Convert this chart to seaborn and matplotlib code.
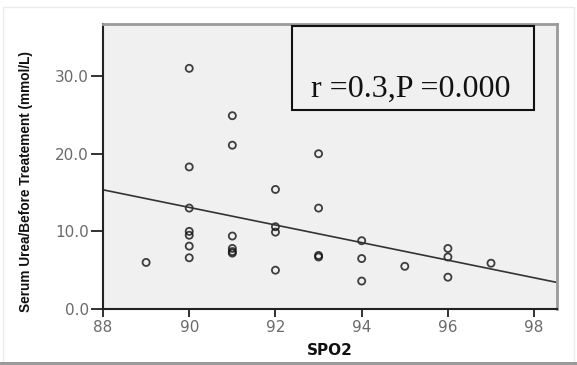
import matplotlib
matplotlib.use('Agg')
import matplotlib.pyplot as plt
from matplotlib.patches import Rectangle
import pandas as pd
import seaborn as sns

# SPO2 vs serum urea before treatment
spo2 = [89,
        90, 90, 90, 90, 90, 90, 90,
        91, 91, 91, 91, 91, 91,
        92, 92, 92, 92,
        93, 93, 93, 93,
        94, 94, 94,
        95,
        96, 96, 96,
        97]
urea = [6.0,
        31.0, 18.3, 13.0, 10.0, 9.5, 8.1, 6.6,
        24.9, 21.1, 9.4, 7.8, 7.4, 7.2,
        15.4, 10.6, 9.9, 5.0,
        20.0, 13.0, 6.9, 6.7,
        8.8, 6.5, 3.6,
        5.5,
        7.8, 6.7, 4.1,
        5.9]
x_ticks = [88, 90, 92, 94, 96, 98]
y_ticks = [0, 10, 20, 30]
stat_text = 'r =0.3,P =0.000'

df = pd.DataFrame({'SPO2': spo2, 'Urea': urea})

sns.set_style('white')
plt.rcParams['font.family'] = ['DejaVu Sans']
plt.rcParams['xtick.bottom'] = True
plt.rcParams['ytick.left'] = True
plt.rcParams['xtick.major.size'] = 6
plt.rcParams['ytick.major.size'] = 9
plt.rcParams['xtick.major.width'] = 1.3
plt.rcParams['ytick.major.width'] = 1.3

fig = plt.figure(figsize=(5.77, 3.65), dpi=100)
ax = fig.add_axes([0.1785, 0.1534, 0.7868, 0.7806])
ax.set_facecolor('#f0f0f0')
ax.set_xlim(88, 98.53)
ax.set_ylim(0, 36.7)

sns.regplot(data=df, x='SPO2', y='Urea', ax=ax, ci=None, truncate=False,
            scatter_kws=dict(facecolors='none', edgecolors='#111111', s=26, linewidths=1.3),
            line_kws=dict(color='#333333', lw=1.2))

ax.set_xticks(x_ticks)
ax.set_yticks(y_ticks)
ax.set_yticklabels([f'{v:.1f}' for v in y_ticks])
ax.tick_params(axis='both', color='#222222', labelcolor='#6a6a6a', labelsize=11)
ax.tick_params(axis='x', pad=2)
ax.tick_params(axis='y', pad=1)

for side in ['left', 'bottom']:
    ax.spines[side].set_color('#222222')
    ax.spines[side].set_linewidth(1.5)
for side in ['top', 'right']:
    ax.spines[side].set_color('#9a9a9a')
    ax.spines[side].set_linewidth(2)

ax.set_xlabel('SPO2', fontsize=11, fontweight='bold', color='#111111', labelpad=6)
ax.set_ylabel('Serum Urea/Before Treatement (mmol/L)',
              fontsize=9.8, fontweight='bold', color='#111111',
              family='Liberation Sans')
ax.yaxis.set_label_coords(-0.155, 0.446)

# annotation box
ax.add_patch(Rectangle((0.416, 0.698), 0.533, 0.295, transform=ax.transAxes,
                       fill=False, edgecolor='#111111', lw=1.5, zorder=5))
ax.text(0.679, 0.744, stat_text, transform=ax.transAxes, ha='center', va='baseline',
        fontsize=23, color='#111111', family='Liberation Serif')

# faint outer frame of the exported picture
fig.add_artist(Rectangle((0.005, 0.0), 0.99, 0.98, transform=fig.transFigure,
                         fill=False, edgecolor='#ececec', lw=1))
fig.add_artist(Rectangle((0.0, 0.0), 1.0, 0.009, transform=fig.transFigure,
                         facecolor='#9a9a9a', edgecolor='none'))

fig.savefig('out.png', dpi=100)
